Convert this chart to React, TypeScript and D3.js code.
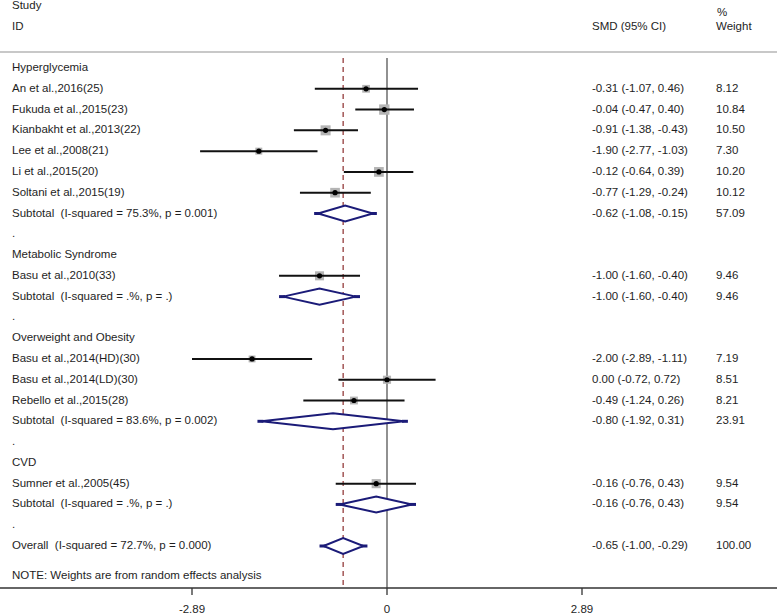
import * as d3 from "d3";

// row labels, top to bottom
const rowLabels = [
  "Hyperglycemia",
  "An et al.,2016(25)",
  "Fukuda et al.,2015(23)",
  "Kianbakht et al.,2013(22)",
  "Lee et al.,2008(21)",
  "Li et al.,2015(20)",
  "Soltani et al.,2015(19)",
  "Subtotal  (I-squared = 75.3%, p = 0.001)",
  ".",
  "Metabolic Syndrome",
  "Basu et al.,2010(33)",
  "Subtotal  (I-squared = .%, p = .)",
  ".",
  "Overweight and Obesity",
  "Basu et al.,2014(HD)(30)",
  "Basu et al.,2014(LD)(30)",
  "Rebello et al.,2015(28)",
  "Subtotal  (I-squared = 83.6%, p = 0.002)",
  ".",
  "CVD",
  "Sumner et al.,2005(45)",
  "Subtotal  (I-squared = .%, p = .)",
  ".",
  "Overall  (I-squared = 72.7%, p = 0.000)",
];

// "h" group heading, "s" study, "t" subtotal / overall, "" blank
const rowKinds = [
  "h", "s", "s", "s", "s", "s", "s", "t", "",
  "h", "s", "t", "",
  "h", "s", "s", "s", "t", "",
  "h", "s", "t", "",
  "t",
];

// effect estimates, one per row (null where the row has none)
const smd = [
  null, -0.31, -0.04, -0.91, -1.9, -0.12, -0.77, -0.62, null,
  null, -1.0, -1.0, null,
  null, -2.0, 0.0, -0.49, -0.8, null,
  null, -0.16, -0.16, null,
  -0.65,
];
const ciLow = [
  null, -1.07, -0.47, -1.38, -2.77, -0.64, -1.29, -1.08, null,
  null, -1.6, -1.6, null,
  null, -2.89, -0.72, -1.24, -1.92, null,
  null, -0.76, -0.76, null,
  -1.0,
];
const ciHigh = [
  null, 0.46, 0.4, -0.43, -1.03, 0.39, -0.24, -0.15, null,
  null, -0.4, -0.4, null,
  null, -1.11, 0.72, 0.26, 0.31, null,
  null, 0.43, 0.43, null,
  -0.29,
];
const weights = [
  null, 8.12, 10.84, 10.5, 7.3, 10.2, 10.12, 57.09, null,
  null, 9.46, 9.46, null,
  null, 7.19, 8.51, 8.21, 23.91, null,
  null, 9.54, 9.54, null,
  100.0,
];

const overallEffect = -0.65;
const xTicks = [-2.89, 0, 2.89];

const W = 777;
const H = 615;
const FONT = "'Liberation Sans', Arial, sans-serif";
const FS = 11.5;
const TEXT = "#1e1e1e";
const NAVY = "#1b1b78";

// plain hyphen minus, like the original output
const fmt = (v: number) => d3.format(".2f")(v).replace("\u2212", "-");

export default function App() {
  const x = d3.scaleLinear().domain([-2.89, 2.89]).range([192, 582]);
  const y = d3.scaleLinear().domain([0, rowLabels.length - 1]).range([68, 546]);
  const box = d3.scaleLinear().domain([0, 11]).range([0, 10.5]);

  const axisY = 588;
  const plotTop = 58;

  return (
    <svg
      width={W}
      height={H}
      viewBox={`0 0 ${W} ${H}`}
      style={{ position: "absolute", left: 0, top: 0, background: "#fff" }}
      fontFamily={FONT}
      fontSize={FS}
    >
      <rect width={W} height={H} fill="#fff" />

      {/* header */}
      <g fill={TEXT} dominantBaseline="middle">
        <text x={12} y={6}>Study</text>
        <text x={12} y={27}>ID</text>
        <text x={592} y={27}>SMD (95% CI)</text>
        <text x={717} y={13}>%</text>
        <text x={716} y={27}>Weight</text>
      </g>
      <line x1={0} x2={W} y1={52} y2={52} stroke="#c8c8c8" strokeWidth={2} />

      {/* reference lines */}
      <line x1={x(0)} x2={x(0)} y1={plotTop} y2={axisY} stroke="#555" strokeWidth={1.3} />
      <line
        x1={x(overallEffect)}
        x2={x(overallEffect)}
        y1={plotTop}
        y2={axisY}
        stroke="#8b2c2c"
        strokeWidth={1.2}
        strokeDasharray="5,4"
      />

      {/* rows */}
      {rowLabels.map((label, i) => {
        const yy = y(i);
        const kind = rowKinds[i];
        const est = smd[i];
        const lo = ciLow[i];
        const hi = ciHigh[i];
        const w = weights[i];
        return (
          <g key={i}>
            <text x={12} y={yy} dominantBaseline="middle" fill={TEXT} style={{ whiteSpace: "pre" }}>
              {label}
            </text>
            {est != null && (
              <>
                <text x={592} y={yy} dominantBaseline="middle" fill={TEXT}>
                  {`${fmt(est)} (${fmt(lo)}, ${fmt(hi)})`}
                </text>
                <text x={716} y={yy} dominantBaseline="middle" fill={TEXT}>
                  {fmt(w)}
                </text>
              </>
            )}
            {kind === "s" && est != null && (
              <g>
                <rect
                  x={x(est) - box(w) / 2}
                  y={yy - box(w) / 2}
                  width={box(w)}
                  height={box(w)}
                  fill="#b4b4b4"
                />
                <line x1={x(lo)} x2={x(hi)} y1={yy} y2={yy} stroke="#111" strokeWidth={2} />
                <circle cx={x(est)} cy={yy} r={2.6} fill="#000" />
              </g>
            )}
            {kind === "t" && est != null && (
              <g fill="none" stroke={NAVY}>
                <path
                  d={`M${x(lo) + 4},${yy} L${x(est)},${yy - 8} L${x(hi) - 4},${yy} L${x(est)},${yy + 8} Z`}
                  fill="#fff"
                  strokeWidth={2}
                  strokeLinejoin="miter"
                />
                <line x1={x(lo)} x2={x(lo) + 6} y1={yy} y2={yy} strokeWidth={3} />
                <line x1={x(hi) - 6} x2={x(hi)} y1={yy} y2={yy} strokeWidth={3} />
              </g>
            )}
          </g>
        );
      })}

      <text x={12} y={576} dominantBaseline="middle" fill={TEXT}>
        NOTE: Weights are from random effects analysis
      </text>

      {/* x axis */}
      <line x1={0} x2={W} y1={axisY} y2={axisY} stroke="#333" strokeWidth={1.3} />
      {xTicks.map((t) => (
        <g key={t} transform={`translate(${x(t)},${axisY})`}>
          <line y1={0} y2={7} stroke="#333" strokeWidth={1.3} />
          <text y={22} textAnchor="middle" dominantBaseline="middle" fill={TEXT}>
            {t === 0 ? "0" : fmt(t)}
          </text>
        </g>
      ))}
    </svg>
  );
}
